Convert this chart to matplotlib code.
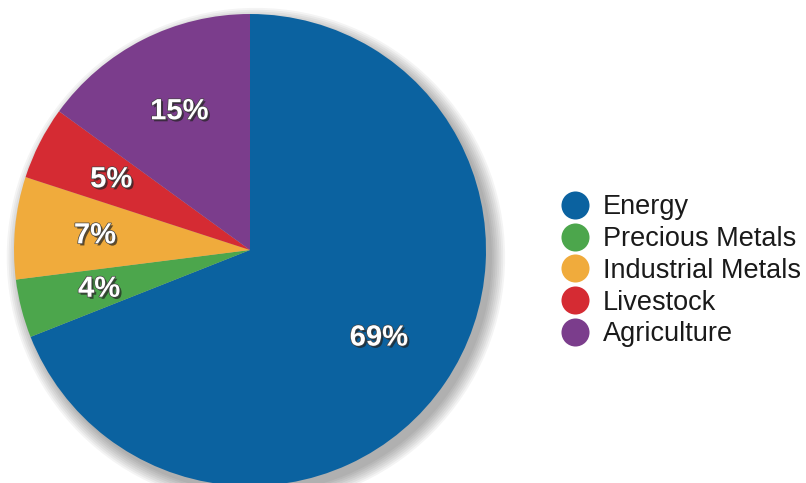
import matplotlib.pyplot as plt
import matplotlib.patheffects as pe
from matplotlib.patches import Circle

sectors = ['Energy', 'Precious Metals', 'Industrial Metals', 'Livestock', 'Agriculture']
shares = [69, 4, 7, 5, 15]
colors = ['#0b62a0', '#4ca64c', '#f0ab3c', '#d52b33', '#7b3d8c']

W, H = 806, 483


def main():
    plt.rcParams['font.family'] = ['Liberation Sans', 'DejaVu Sans']
    fig = plt.figure(figsize=(W / 100, H / 100), dpi=100)

    # pie axes: centre (250, 250) px, radius 236 px
    cx, cy, r = 250, 250, 236
    ax = fig.add_axes([(cx - r) / W, (H - cy - r) / H, 2 * r / W, 2 * r / H])

    # soft drop shadow
    for k in range(8):
        ax.add_patch(Circle((0.025, -0.03), 1.0 + 0.008 * k, color='black',
                            alpha=0.045, lw=0, zorder=0, clip_on=False))

    wedges, texts, autotexts = ax.pie(
        shares, colors=colors, startangle=90, counterclock=False,
        autopct='%d%%', pctdistance=0.66, radius=1.0,
        wedgeprops=dict(linewidth=0), frame=True)
    ax.set_xlim(-1, 1)
    ax.set_ylim(-1, 1)
    ax.set_aspect('equal')
    ax.axis('off')
    for w in wedges:
        w.set_clip_on(False)
    for t in autotexts:
        t.set_color('white')
        t.set_fontsize(21)
        t.set_fontweight('bold')
        t.set_path_effects([pe.withSimplePatchShadow(offset=(1.5, -1.5), shadow_rgbFace='#222222', alpha=0.7),
                            pe.Stroke(linewidth=1.0, foreground='#444444'), pe.Normal()])

    # legend drawn in pixel coordinates
    lax = fig.add_axes([0, 0, 1, 1])
    lax.set_xlim(0, W)
    lax.set_ylim(H, 0)
    lax.axis('off')
    y0, dy = 205, 31.7
    for i, (name, col) in enumerate(zip(sectors, colors)):
        y = y0 + i * dy
        lax.scatter([575], [y], s=28 ** 2 * 0.52, color=col, lw=0)
        lax.text(603, y + 9.5, name, fontsize=19.5, color='#1a1a1a', va='baseline', ha='left')

    plt.savefig('out.png', dpi=100)
    plt.close()


if __name__ == "__main__":
    main()
